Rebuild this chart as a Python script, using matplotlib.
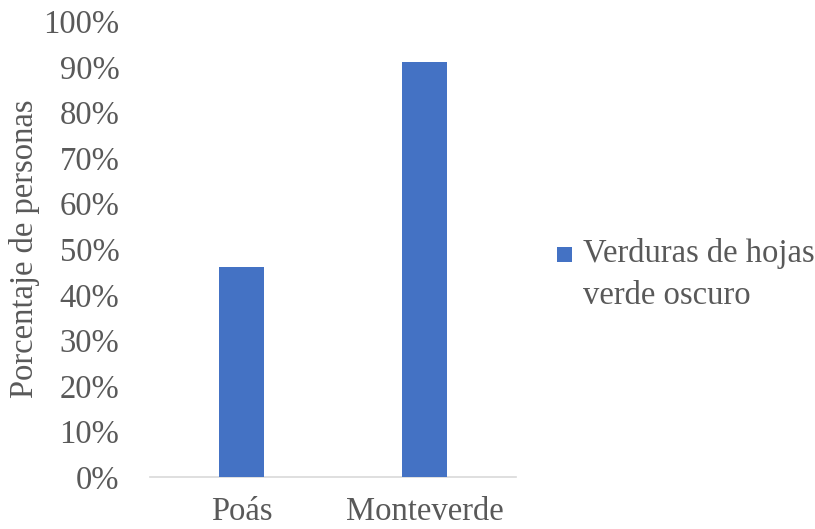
import matplotlib
matplotlib.use("Agg")
import matplotlib.pyplot as plt
from matplotlib.patches import Rectangle
from matplotlib.container import BarContainer
from matplotlib.legend_handler import HandlerPatch
from matplotlib.ticker import PercentFormatter

categories = ["Poás", "Monteverde"]
values = [0.46, 0.91]
series_name = "Verduras de hojas\nverde oscuro"
y_label = "Porcentaje de personas"

bar_color = "#4472C4"
text_color = "#595959"
font = ["Liberation Serif", "DejaVu Serif"]
fs = 23.5

plt.rcParams["font.family"] = font

fig = plt.figure(figsize=(8.15, 5.29), dpi=100)
ax = fig.add_axes([0.184, 0.098, 0.449, 0.862])

x = range(len(categories))
ax.bar(x, values, width=0.25, color=bar_color, label=series_name, zorder=3)

ax.set_xlim(-0.5, len(categories) - 0.5)
ax.set_ylim(0, 1.0)
ax.set_yticks([i / 10 for i in range(11)])
ax.yaxis.set_major_formatter(PercentFormatter(1.0, decimals=0))
ax.set_xticks(list(x))
ax.set_xticklabels(categories)

for side in ("top", "right", "left"):
    ax.spines[side].set_visible(False)
ax.spines["bottom"].set_color("#D9D9D9")
ax.spines["bottom"].set_linewidth(1.2)
ax.tick_params(axis="both", length=0, labelsize=fs, colors=text_color)
ax.tick_params(axis="x", pad=14)
ax.tick_params(axis="y", pad=22)
ax.set_ylabel(y_label, fontsize=fs, color=text_color)
ax.yaxis.set_label_coords(-0.30, 0.5)


def top_square(legend, orig_handle, xdescent, ydescent, width, height, fontsize):
    # square marker placed beside the first line of a two-line label
    s = fontsize * 0.46
    return Rectangle((width - s, height + fontsize * 0.05), s, s)


def copy_style(legend_handle, orig_handle):
    legend_handle.update_from(orig_handle[0])


leg = ax.legend(
    loc="center left", bbox_to_anchor=(1.112, 0.444), frameon=False,
    fontsize=fs, labelcolor=text_color, handlelength=0.46, handleheight=0.7,
    handletextpad=0.35, borderpad=0, borderaxespad=0,
    handler_map={BarContainer: HandlerPatch(patch_func=top_square,
                                            update_func=copy_style)},
)
for t in leg.get_texts():
    t.set_linespacing(1.5)

fig.savefig("out.png", dpi=100, facecolor="white")
